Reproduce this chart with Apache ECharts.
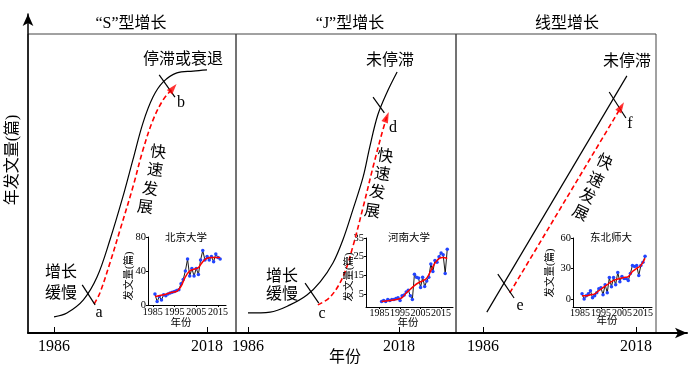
<!DOCTYPE html>
<html><head><meta charset="utf-8">
<script src="https://cdn.jsdelivr.net/npm/echarts@6/dist/echarts.min.js"></script>
<style>html,body{margin:0;padding:0;background:#fff}#c{width:700px;height:370px}</style>
</head><body><div id="c"></div>
<script>
// ---------- main panels: [year, relative annual output (0-100)] ----------
const sCurve = [[1986,5.4],[1988.7,6.7],[1992.1,11.0],[1995.0,18.7],[1997.7,31.1],[2000.4,45.5],[2002.5,57.9],[2004.6,70.2],[2006.7,78.9],[2008.8,83.9],[2011.7,87.0],[2015.1,87.6],[2018,88.0]];
const sArrow = [[1994.4,9.7],[1995.6,13.4],[1997.7,23.4],[1999.8,34.4],[2002.5,48.8],[2004.6,61.2],[2006.7,71.2],[2008.8,77.9],[2010.9,81.9]];
const sMarkA = [[1991.9,16.1],[1994.6,9.4]];
const sMarkB = [[2008.0,86.3],[2011.3,78.9]];

const jCurve = [[1986,6.7],[1990.7,7.0],[1994.9,9.4],[1998.5,12.7],[2001.3,17.1],[2004.0,23.4],[2006.1,31.1],[2008.2,41.1],[2010.4,52.2],[2011.8,62.2],[2013.5,72.9],[2015.4,80.3],[2017.6,87.3]];
const jArrow = [[2000.8,9.4],[2003.4,12.0],[2006.1,18.7],[2008.2,28.8],[2010.4,42.1],[2012.5,55.5],[2014.4,66.9],[2015.4,72.2]];
const jMarkC = [[1998.1,16.7],[2001.0,10.0]];
const jMarkD = [[2012.5,78.9],[2014.9,73.6]];

const lCurve = [[1986.8,7.0],[2016.1,86.0]];
const lArrow = [[1991.6,13.4],[2014.9,75.6]];
const lMarkE = [[1989.1,19.7],[1992.5,11.7]];
const lMarkF = [[2012.4,80.6],[2015.9,71.9]];

const mainTicks = [1986, 2018];

// ---------- insets: annual papers ----------
const bjYears = [1986,1987,1988,1989,1990,1991,1992,1993,1994,1995,1996,1997,1998,1999,2000,2001,2002,2003,2004,2005,2006,2007,2008,2009,2010,2011,2012,2013,2014,2015,2016];
const bjRaw   = [13,4,10,6,12,11,13,14,15,16,17,18,25,30,40,54,34,43,34,43,36,53,64,53,57,53,57,51,60,56,54];
const bjSmooth = [[1986,10],[1988,11],[1990,12],[1992,13.5],[1994,15],[1996,16],[1998,22],[2000,33],[2002,40],[2004,42],[2006,44],[2008,51],[2010,55],[2012,56],[2014,56],[2016,56]];

const hnYears = [1986,1987,1988,1989,1990,1991,1992,1993,1994,1995,1996,1997,1998,1999,2000,2001,2002,2003,2004,2005,2006,2007,2008,2009,2010,2011,2012,2013,2014,2015,2016,2017,2018];
const hnRaw   = [1,1.5,1,2,1.5,2,2,2.5,3,1.5,4,4.5,6,7,4,2,15.5,14,13.5,8.5,14,9,12,14,21,17,23,22,25,27,26,16,29];
const hnSmooth = [[1986,1],[1990,1.5],[1994,2.2],[1996,3],[1998,5.5],[2000,7.5],[2002,9.5],[2004,11],[2006,12],[2008,13.5],[2010,17.5],[2012,21.5],[2014,24],[2016,24.5],[2018,24]];

const dbYears = [1986,1987,1988,1989,1990,1991,1992,1993,1994,1995,1996,1997,1998,1999,2000,2001,2002,2003,2004,2005,2006,2007,2008,2009,2010,2011,2012,2013,2014,2015,2016];
const dbRaw   = [5,0,3,5,8,1,3,6,10,11,4,14,6,21,12,21,14,26,17,22,20,20,18,25,33,32,33,23,33,36,42];
const dbSmooth = [[1986,3],[1988,3],[1990,4],[1992,5],[1994,8],[1996,11],[1998,14],[2000,17],[2002,19],[2004,20],[2006,21],[2008,22],[2010,27],[2012,30],[2014,33],[2016,40]];

const insetXTicks = [1985,1995,2005,2015];
const bjYTicks = [0,40,80];
const hnYTicks = [5,15,25,35];
const dbYTicks = [0,30,60];

// ---------- layout ----------
const SERIF = "'Liberation Serif','Noto Sans CJK SC',serif";
const plain = v => String(v);
const panelLayout = [
  {left:28, width:208, min:1980.56, max:2024.07},
  {left:236, width:220, min:1983.46, max:2030.08},
  {left:456, width:200, min:1980.35, max:2022.19}
];
const insetLayout = [
  {left:148, top:237, width:78, height:68, xmin:1982.8, xmax:2018.7, ymin:0, ymax:80, ticks:bjYTicks, margin:2},
  {left:366, top:238, width:87, height:69, xmin:1978.4, xmax:2020.8, ymin:-2, ymax:35, ticks:hnYTicks, margin:1},
  {left:573, top:238, width:79, height:69, xmin:1981.7, xmax:2019.3, ymin:-8, ymax:60, ticks:dbYTicks, margin:1}
];

const grids = [{left:28, top:14, right:13, bottom:37, show:false}];
const xAxes = [{gridIndex:0, type:'value', min:0, max:1, z:6,
  axisLine:{show:true, symbol:['none','arrow'], symbolSize:[8,12], lineStyle:{color:'#000', width:2}},
  axisTick:{show:false}, axisLabel:{show:false}, splitLine:{show:false}}];
const yAxes = [{gridIndex:0, type:'value', min:0, max:1, z:6,
  axisLine:{show:true, symbol:['none','arrow'], symbolSize:[8,12], lineStyle:{color:'#000', width:1.5}},
  axisTick:{show:false}, axisLabel:{show:false}, splitLine:{show:false}}];

panelLayout.forEach((p, i) => {
  grids.push({left:p.left, width:p.width, top:34, height:299, show:true, borderColor:'#444', borderWidth:1, backgroundColor:'transparent'});
  xAxes.push({gridIndex:i+1, type:'value', min:p.min, max:p.max,
    axisLine:{show:false}, splitLine:{show:false},
    axisTick:{show:true, inside:true, length:6, customValues:mainTicks, lineStyle:{color:'#000'}},
    axisLabel:{show:true, customValues:mainTicks, formatter:plain, hideOverlap:false, margin:6, color:'#000', fontSize:16, fontFamily:SERIF}});
  yAxes.push({gridIndex:i+1, type:'value', min:0, max:100, show:false});
});
insetLayout.forEach((q, i) => {
  grids.push({left:q.left, top:q.top, width:q.width, height:q.height, show:false});
  xAxes.push({gridIndex:i+4, type:'value', min:q.xmin, max:q.xmax,
    axisLine:{show:true, onZero:false, lineStyle:{color:'#000', width:1}}, splitLine:{show:false},
    axisTick:{show:true, length:2, customValues:insetXTicks, lineStyle:{color:'#000'}},
    axisLabel:{customValues:insetXTicks, formatter:plain, hideOverlap:false, margin:q.margin, color:'#000', fontSize:10, fontFamily:SERIF}});
  yAxes.push({gridIndex:i+4, type:'value', min:q.ymin, max:q.ymax,
    axisLine:{show:true, onZero:false, lineStyle:{color:'#000', width:1}}, splitLine:{show:false},
    axisTick:{show:true, length:2, customValues:q.ticks, lineStyle:{color:'#000'}},
    axisLabel:{customValues:q.ticks, formatter:plain, hideOverlap:false, margin:2, color:'#000', fontSize:10.5, fontFamily:SERIF}});
});

const series = [];
function blackLine(data, axis, smooth){ series.push({type:'line', xAxisIndex:axis, yAxisIndex:axis, data, smooth:smooth||false, symbol:'none', lineStyle:{color:'#000', width:1.2}, silent:true, z:3}); }
function redArrow(data, axis, rot, smooth){
  series.push({type:'line', xAxisIndex:axis, yAxisIndex:axis, data, smooth:smooth||false, symbol:'none', lineStyle:{color:'#ff0000', width:1.6, type:[5,3]}, silent:true, z:3});
  series.push({type:'scatter', xAxisIndex:axis, yAxisIndex:axis, data:[data[data.length-1]], symbol:'triangle', symbolSize:[7,11], symbolRotate:rot, itemStyle:{color:'#ff0000'}, silent:true, z:4});
}
blackLine(sCurve, 1, 0.35); redArrow(sArrow, 1, -40, 0.35); blackLine(sMarkA, 1); blackLine(sMarkB, 1);
blackLine(jCurve, 2, 0.35); redArrow(jArrow, 2, -22, 0.35); blackLine(jMarkC, 2); blackLine(jMarkD, 2);
blackLine(lCurve, 3); redArrow(lArrow, 3, -31); blackLine(lMarkE, 3); blackLine(lMarkF, 3);

function inset(years, raw, smooth, axis){
  series.push({type:'line', xAxisIndex:axis, yAxisIndex:axis, data:years.map((y,k)=>[y, raw[k]]), symbol:'circle', symbolSize:3.5, showSymbol:true,
    lineStyle:{color:'#000', width:0.9}, itemStyle:{color:'#2244ff', borderWidth:0}, silent:true, z:3});
  series.push({type:'line', xAxisIndex:axis, yAxisIndex:axis, data:smooth, smooth:0.4, symbol:'none', lineStyle:{color:'#ff0000', width:1.5}, silent:true, z:4});
}
inset(bjYears, bjRaw, bjSmooth, 4);
inset(hnYears, hnRaw, hnSmooth, 5);
inset(dbYears, dbRaw, dbSmooth, 6);

function txt(x, y, text, size, rot){
  return {type:'text', x, y, rotation:rot||0, z:10, silent:true,
    style:{x:0, y:0, text, font:size+'px '+SERIF, fill:'#000', align:'center', verticalAlign:'middle', textAlign:'center', textVerticalAlign:'middle'}};
}
const speed = ['快','速','发','展'];
const g = [
  txt(131,24,'“S”型增长',16), txt(350,24,'“J”型增长',16), txt(567,24,'线型增长',16),
  txt(183,60,'停滞或衰退',16), txt(61,273,'增长',16), txt(61,294,'缓慢',16),
  txt(99,313,'a',16), txt(181,103,'b',16),
  txt(390,61,'未停滞',16), txt(282,277,'增长',16), txt(282,295,'缓慢',16),
  txt(322,314,'c',16), txt(393,128,'d',16),
  txt(627,62,'未停滞',16), txt(520,306,'e',16), txt(630,124,'f',16),
  txt(345,358,'年份',16), txt(13,160,'年发文量(篇)',16,Math.PI/2),
  txt(186,238,'北京大学',10.5), txt(409,238,'河南大学',10.5), txt(611,238,'东北师大',10.5),
  txt(129,276,'发文量(篇)',10.5,Math.PI/2), txt(349,277,'发文量(篇)',10.5,Math.PI/2), txt(550,273,'发文量(篇)',10.5,Math.PI/2),
  txt(181,323,'年份',10.5), txt(408,323,'年份',10.5), txt(607,321,'年份',10.5)
];
[[158,153],[155,171],[150,190],[145,208]].forEach((p,k)=>g.push(txt(p[0],p[1],speed[k],16,-0.12)));
[[385,157],[382,175],[377,193],[372,212]].forEach((p,k)=>g.push(txt(p[0],p[1],speed[k],16,-0.15)));
[[604,163],[595,181],[587,197],[580,214]].forEach((p,k)=>g.push(txt(p[0],p[1],speed[k],16,-0.45)));

const chart = echarts.init(document.getElementById('c'), null, {renderer:'canvas'});
chart.setOption({animation:false, backgroundColor:'#fff', grid:grids, xAxis:xAxes, yAxis:yAxes, series, graphic:g});
</script></body></html>
